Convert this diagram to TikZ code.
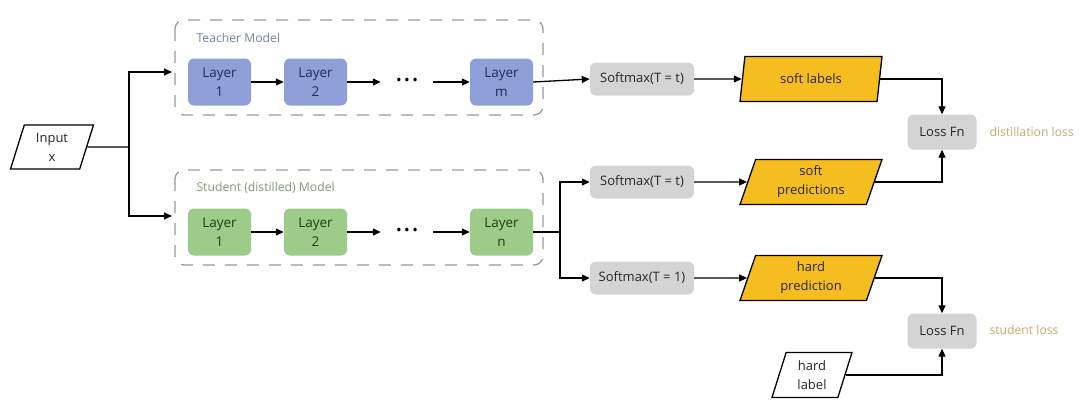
\documentclass[tikz,border=0pt]{standalone}
\usepackage{fontspec}
\setmainfont{Open Sans}
\usetikzlibrary{arrows.meta,shapes.geometric}
\definecolor{tfill}{HTML}{8FA0D8}
\definecolor{ttext}{HTML}{1F2A5A}
\definecolor{sfill}{HTML}{9DCB88}
\definecolor{stext}{HTML}{1E3D14}
\definecolor{gfill}{HTML}{D4D4D4}
\definecolor{ylw}{HTML}{F5BD20}
\definecolor{tlab}{HTML}{6D84A8}
\definecolor{slab}{HTML}{7D9E6A}
\definecolor{losslab}{HTML}{C9A86C}
\definecolor{dashc}{HTML}{9A9A9A}
\tikzset{
  x=1pt, y=-1pt,
  every node/.style={font=\fontsize{13}{19}\selectfont, text=black!85},
  layerT/.style={rounded corners=6pt, fill=tfill, minimum width=63pt, minimum height=47pt, align=center, inner sep=0pt, text=ttext, font=\fontsize{13.5}{19.5}\selectfont},
  layerS/.style={layerT, fill=sfill, text=stext},
  gbox/.style={rounded corners=6pt, fill=gfill, minimum height=33pt, align=center, inner sep=0pt},
  para/.style={trapezium, trapezium left angle=64, trapezium right angle=116, trapezium stretches body, draw=black, line width=1.3pt, align=center, inner sep=0pt, minimum height=45pt, font=\fontsize{13}{19}\selectfont},
  ypara/.style={para, fill=ylw},
  dotsnode/.style={minimum width=52pt, inner sep=0pt, text=black, font=\fontsize{15}{15}\selectfont},
  dbox/.style={draw=dashc, line width=1.3pt, dash pattern=on 12pt off 10pt, rounded corners=9pt},
  conn/.style={line width=1.3pt, draw=black},
  arr/.style={conn, -{Triangle[length=8pt,width=7pt]}},
  lab/.style={anchor=west, font=\fontsize{12.2}{14}\selectfont},
}
\begin{document}
\begin{tikzpicture}
\useasboundingbox (0,0) rectangle (1080,400);
% dashed boxes
\draw[dbox] (175,20) rectangle (543,115);
\draw[dbox] (175,170) rectangle (543,265);
\node[lab, text=tlab] (tlabel) at (193,38) {Teacher Model};
\node[lab, text=slab] (slabel) at (193,188) {Student (distilled) Model};
% teacher layers
\node[layerT] (t1) at (219.5,82) {Layer\\1};
\node[layerT] (t2) at (315.5,82) {Layer\\2};
\node[dotsnode] (td) at (407,82) {•\,•\,•};
\node[layerT] (tm) at (501.5,82) {Layer\\m};
% student layers
\node[layerS] (s1) at (219.5,232) {Layer\\1};
\node[layerS] (s2) at (315.5,232) {Layer\\2};
\node[dotsnode] (sd) at (407,232) {•\,•\,•};
\node[layerS] (sn) at (501.5,232) {Layer\\n};
% input
\node[para, minimum width=83pt, minimum height=44pt] (inp) at (52,147) {Input\\x};
\coordinate (jin) at (129,147);
\coordinate (tin) at (172,72);
\coordinate (sin) at (172,216);
% softmax boxes
\node[gbox, minimum width=104pt] (sm1) at (642,79) {Softmax(T = t)};
\node[gbox, minimum width=104pt] (sm2) at (642,182) {Softmax(T = t)};
\node[gbox, minimum width=104pt] (sm3) at (642,278) {Softmax(T = 1)};
% parallelograms
\node[ypara, minimum width=142pt] (pl1) at (811,79) {soft labels};
\node[ypara, minimum width=142pt] (pl2) at (811,182) {soft\\predictions};
\node[ypara, minimum width=142pt] (pl3) at (811,278) {hard\\prediction};
\node[para, minimum width=80pt] (hl) at (812,375) {hard\\label};
% loss
\node[gbox, minimum width=69pt, minimum height=35pt] (lossA) at (942,132) {Loss Fn};
\node[gbox, minimum width=69pt, minimum height=35pt] (lossB) at (942,331) {Loss Fn};
\node[lab, text=losslab] (dl) at (986,132) {distillation loss};
\node[lab, text=losslab] (sl) at (986,330) {student loss};
% connectors
\draw[conn] (inp.east) -- (jin);
\draw[arr] (jin) |- (tin);
\draw[arr] (jin) |- (sin);
\draw[arr] (t1) -- (t2);
\draw[arr] (t2) -- (td);
\draw[arr] (td) -- (tm);
\draw[arr] (s1) -- (s2);
\draw[arr] (s2) -- (sd);
\draw[arr] (sd) -- (sn);
\draw[arr] (tm.east) -- (sm1.west);
\coordinate (jn) at (560,232);
\draw[conn] (sn.east) -- (jn);
\draw[arr] (jn) |- (sm2.west);
\draw[arr] (jn) |- (sm3.west);
\draw[arr] (sm1) -- (pl1);
\draw[arr] (sm2) -- (pl2);
\draw[arr] (sm3) -- (pl3);
\draw[arr] (pl1.east) -| (lossA.north);
\draw[arr] (pl2.east) -| (lossA.south);
\draw[arr] (pl3.east) -| (lossB.north);
\draw[arr] (hl.east) -| (lossB.south);
\end{tikzpicture}
\end{document}
